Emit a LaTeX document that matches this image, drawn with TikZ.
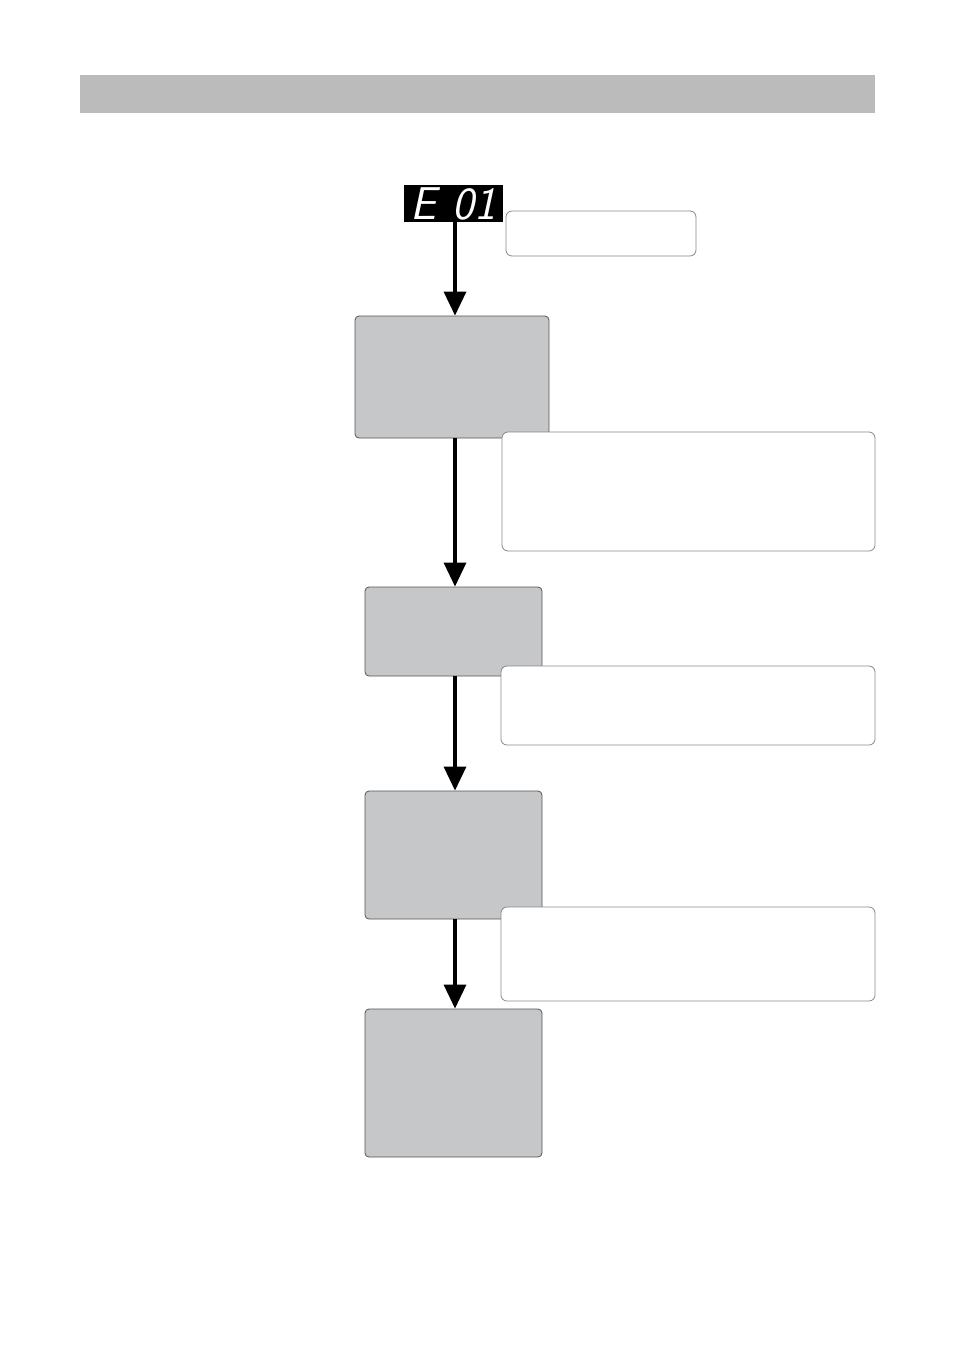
\documentclass[tikz,border=0pt]{standalone}
\usetikzlibrary{arrows.meta}
\definecolor{barGray}{HTML}{BBBBBB}
\definecolor{stepGray}{HTML}{C6C7C9}
\definecolor{edgeGray}{HTML}{555555}
\definecolor{noteEdge}{HTML}{888888}
\begin{document}
\begin{tikzpicture}[x=1pt, y=-1pt,
  stepbox/.style={draw=edgeGray, line width=0.8pt, fill=stepGray, rounded corners=4pt, inner sep=0pt},
  notebox/.style={draw=noteEdge, line width=0.8pt, fill=white, rounded corners=6pt, inner sep=0pt},
  flow/.style={line width=3.2pt, -{Triangle[width=22pt, length=24pt]}}]
  \useasboundingbox (0,0) rectangle (954,1350);
  \fill[barGray] (80,75) rectangle (875,113);

  \node[fill=black, minimum width=99pt, minimum height=37pt, inner sep=0pt] (disp) at (453.5,203.5)
    {\color{white}\sffamily\fontsize{46}{46}\selectfont\itshape E\hspace{16pt}01};
  \node[notebox, minimum width=190pt, minimum height=45pt] (note1) at (601,233.5) {};

  \node[stepbox, minimum width=194pt, minimum height=122pt] (stepA) at (452,377) {};
  \node[stepbox, minimum width=177pt, minimum height=89pt] (stepB) at (453.5,631.5) {};
  \node[stepbox, minimum width=177pt, minimum height=128pt] (stepC) at (453.5,855) {};
  \node[stepbox, minimum width=177pt, minimum height=148pt] (stepD) at (453.5,1083) {};

  \node[notebox, minimum width=373pt, minimum height=119pt] (note2) at (688.5,491.5) {};
  \node[notebox, minimum width=374pt, minimum height=79pt] (note3) at (688,705.5) {};
  \node[notebox, minimum width=374pt, minimum height=94pt] (note4) at (688,954) {};

  \coordinate (a0) at (455,222);
  \draw[flow] (a0) -- (a0 |- stepA.north);
  \draw[flow] (stepA.south -| a0) -- (stepB.north -| a0);
  \draw[flow] (stepB.south -| a0) -- (stepC.north -| a0);
  \draw[flow] (stepC.south -| a0) -- (stepD.north -| a0);
\end{tikzpicture}
\end{document}
